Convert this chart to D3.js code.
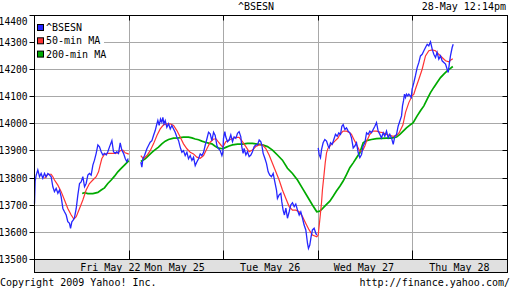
<!DOCTYPE html>
<html>
<head>
<meta charset="utf-8">
<script src="https://cdn.jsdelivr.net/npm/d3@7"></script>
<style>
  body { margin: 0; background: #fff; }
  text { font-family: "DejaVu Sans Mono", monospace; font-size: 10px; fill: #000; }
</style>
</head>
<body>
<svg id="chart"></svg>
<script>
// time axis: each trading day section is 100 units wide
const yTicks = [13500, 13600, 13700, 13800, 13900, 14000, 14100, 14200, 14300, 14400];
const dayBreaks = [100, 200, 300, 400];
const dayLabels = ["Fri May 22", "Mon May 25", "Tue May 26", "Wed May 27", "Thu May 28"];
const dayLabelAt = [112, 180, 281, 380, 481];
const seriesNames = ["^BSESN", "50-min MA", "200-min MA"];

// ^BSESN index, [time, value]
const bsesnFri = [[0,13705],[0.7,13790],[1.8,13811],[3.5,13830],[5.3,13805],[7.0,13817],[8.8,13799],[10.6,13817],[12.3,13805],[14.1,13817],[15.9,13811],[17.6,13805],[19.4,13768],[21.1,13750],[22.9,13762],[24.7,13744],[26.4,13756],[28.2,13731],[30.0,13688],[31.7,13676],[33.5,13664],[35.2,13639],[37.0,13633],[38.1,13615],[39.5,13639],[40.9,13645],[42.3,13655],[44.1,13688],[45.8,13737],[47.6,13780],[49.3,13786],[51.1,13805],[52.9,13768],[54.6,13780],[56.4,13811],[58.1,13817],[59.9,13811],[61.7,13848],[63.4,13866],[65.2,13891],[67.0,13922],[68.7,13915],[70.5,13897],[72.2,13885],[74.0,13891],[75.8,13885],[77.5,13897],[79.3,13915],[81.8,13938],[83.5,13897],[85.3,13891],[87.0,13897],[88.8,13891],[90.6,13930],[92.3,13903],[94.1,13891],[95.9,13872],[97.6,13860],[99.0,13872]];
const bsesnMonTue = [[112.4,13859],[113.5,13840],[114.6,13871],[116.3,13883],[118.8,13908],[120.5,13920],[122.3,13932],[124.1,13938],[125.8,13957],[127.6,13975],[129.4,14000],[130.4,14012],[131.8,13994],[133.2,14018],[134.6,14006],[135.7,14024],[136.8,14000],[138.2,14012],[139.9,13987],[141.7,14000],[143.5,13981],[145.2,13994],[147.0,13981],[148.7,13969],[150.5,13951],[152.3,13938],[154.0,13914],[155.8,13895],[157.5,13901],[159.3,13883],[161.1,13895],[162.8,13871],[164.6,13883],[166.4,13865],[168.1,13877],[169.9,13846],[171.6,13859],[173.4,13871],[175.2,13889],[176.9,13883],[178.7,13895],[180.4,13920],[182.2,13944],[184.0,13969],[185.7,13963],[187.5,13938],[189.3,13969],[191.0,13957],[192.8,13920],[194.5,13908],[196.3,13901],[198.1,13883],[199.1,13895],
  [199.8,13946],[201.2,13971],[202.2,13952],[204.0,13934],[205.7,13940],[207.5,13959],[209.3,13934],[211.0,13952],[212.8,13946],[214.6,13965],[216.3,13971],[218.1,13952],[219.1,13916],[220.5,13891],[221.6,13909],[223.4,13885],[225.1,13897],[226.9,13879],[228.7,13885],[230.4,13897],[232.2,13916],[233.9,13922],[235.7,13922],[237.5,13940],[239.2,13934],[240.3,13922],[241.7,13891],[243.5,13873],[245.2,13854],[247.0,13823],[248.7,13811],[250.5,13805],[252.3,13817],[254.0,13787],[255.8,13756],[256.8,13725],[258.6,13738],[260.4,13744],[261.4,13713],[262.8,13682],[264.2,13664],[265.7,13689],[267.4,13652],[269.2,13676],[270.9,13701],[272.7,13709],[274.5,13695],[276.2,13704],[278.0,13682],[279.8,13664],[281.5,13676],[283.3,13652],[285.0,13627],[286.8,13609],[288.6,13559],[289.6,13541],[291.0,13553],[292.4,13584],[293.8,13609],[295.6,13615],[297.4,13596],[298.4,13590]];
const bsesnWedThu = [[299.9,13911],[300.9,13887],[302.3,13875],[303.4,13905],[305.1,13930],[306.9,13942],[308.7,13936],[310.4,13918],[311.5,13911],[312.9,13930],[314.7,13924],[316.4,13942],[318.2,13961],[320.0,13954],[321.7,13967],[323.5,13961],[324.9,13991],[326.3,13997],[328.1,13979],[329.8,13985],[331.6,13973],[333.3,13967],[335.1,13948],[336.9,13911],[338.6,13918],[340.4,13930],[342.2,13893],[343.9,13875],[345.7,13887],[347.4,13918],[349.2,13930],[351.0,13967],[352.7,13961],[354.5,13973],[356.2,13967],[358.0,13979],[359.8,13991],[361.5,14004],[363.3,13973],[365.1,13961],[366.8,13948],[368.6,13967],[370.3,13954],[372.1,13973],[373.9,13948],[375.6,13961],[377.4,13948],[379.2,13924],[380.9,13954],[382.7,13961],[384.4,13991],
  [388.0,14029],[389.0,14066],[390.1,14085],[391.1,14109],[392.2,14097],[393.2,14109],[394.6,14103],[395.7,14109],[397.1,14103],[398.2,14097],[399.2,14128],[401.0,14152],[402.7,14177],[404.5,14207],[406.3,14226],[408.0,14250],[409.8,14256],[411.6,14269],[413.3,14281],[415.1,14293],[416.8,14287],[418.6,14302],[420.4,14275],[422.1,14256],[423.9,14244],[425.6,14263],[427.4,14238],[429.2,14250],[430.9,14232],[432.7,14226],[434.5,14220],[436.2,14201],[437.3,14189],[438.7,14226],[439.7,14250],[441.5,14281],[442.6,14293]];

// 50-minute moving average
const ma50Fri = [[10.6,13799],[14.1,13814],[17.6,13814],[19.4,13805],[21.1,13793],[24.7,13774],[28.2,13750],[31.7,13719],[35.2,13688],[38.8,13664],[41.6,13649],[44.1,13658],[47.6,13688],[51.1,13719],[54.6,13756],[58.1,13780],[61.7,13793],[65.2,13805],[67.7,13823],[69.4,13848],[71.2,13872],[74.0,13888],[77.5,13891],[81.1,13891],[84.6,13891],[88.1,13893],[90.9,13901],[93.4,13903],[95.9,13893],[99.7,13888]];
const ma50Rest = [[112.4,13883],[115.2,13871],[118.8,13883],[122.3,13901],[125.8,13926],[129.4,13957],[132.9,13981],[136.4,13996],[139.9,14000],[143.5,14000],[147.0,13994],[150.5,13975],[154.0,13951],[157.5,13926],[161.1,13908],[164.6,13895],[168.1,13889],[171.6,13877],[175.2,13873],[178.7,13883],[182.2,13908],[185.7,13932],[189.3,13944],[192.1,13944],[194.5,13932],[197.4,13920],[199.1,13914],
  [202.2,13934],[205.7,13940],[209.3,13946],[212.8,13950],[216.3,13950],[219.8,13934],[223.4,13916],[226.9,13897],[230.4,13903],[233.9,13916],[237.5,13922],[241.0,13922],[244.5,13909],[248.0,13885],[251.6,13854],[255.1,13823],[258.6,13793],[262.1,13756],[265.7,13725],[269.2,13695],[272.7,13682],[276.2,13682],[279.8,13676],[283.3,13658],[286.8,13633],[290.3,13609],[293.8,13590],[298.4,13584],
  [299.9,13590],[301.6,13647],[303.4,13709],[304.4,13758],[305.9,13807],[307.3,13856],[308.7,13893],[310.4,13911],[312.2,13918],[314.0,13924],[315.7,13930],[317.5,13936],[319.2,13942],[321.0,13948],[322.8,13961],[324.5,13967],[326.3,13973],[329.8,13973],[333.3,13967],[335.1,13961],[336.9,13948],[338.6,13936],[340.4,13924],[342.2,13911],[343.9,13899],[345.7,13899],[347.4,13905],[349.2,13918],[351.0,13936],[352.7,13948],[354.5,13961],[356.2,13969],[358.0,13973],[361.5,13973],[365.1,13969],[368.6,13967],[372.1,13961],[375.6,13957],[379.2,13954],[382.7,13957],[385.5,13967],
  [389.4,13995],[392.2,14042],[395.7,14078],[399.2,14103],[401.0,14109],[402.7,14128],[406.3,14164],[409.8,14201],[413.3,14250],[416.8,14269],[420.4,14272],[423.9,14269],[427.4,14256],[430.9,14244],[434.5,14232],[438.0,14228],[439.7,14234],[442.2,14240]];

// 200-minute moving average
const ma200Fri = [[50.4,13743],[52.9,13746],[56.4,13743],[61.7,13743],[67.0,13747],[70.5,13756],[74.0,13764],[77.5,13780],[81.1,13793],[84.6,13807],[88.1,13823],[91.6,13836],[95.1,13848],[99.7,13864]];
const ma200Rest = [[112.4,13861],[117.0,13871],[120.5,13883],[124.1,13895],[127.6,13905],[131.1,13914],[134.6,13926],[138.2,13936],[141.7,13942],[147.0,13947],[152.3,13948],[157.5,13951],[162.8,13951],[166.4,13948],[169.9,13944],[173.4,13941],[176.9,13936],[180.4,13932],[184.0,13929],[187.5,13926],[191.0,13917],[194.5,13910],[199.1,13908],
  [202.2,13913],[205.7,13918],[209.3,13922],[214.6,13925],[219.8,13925],[225.1,13928],[230.4,13928],[235.7,13925],[241.0,13922],[246.3,13916],[251.6,13903],[256.8,13885],[262.1,13866],[267.4,13836],[272.7,13817],[278.0,13793],[283.3,13762],[288.6,13731],[293.8,13701],[298.4,13676],
  [301.6,13678],[305.1,13690],[308.7,13703],[312.2,13715],[315.7,13733],[319.2,13752],[322.8,13770],[326.3,13789],[329.8,13813],[333.3,13838],[336.9,13856],[340.4,13875],[343.9,13893],[347.4,13930],[351.0,13938],[356.2,13942],[361.5,13945],[366.8,13946],[372.1,13947],[377.4,13947],[382.7,13951],[386.2,13961],[389.7,13973],[393.2,13985],[396.8,13995],[400.3,14004],
  [404.5,14029],[408.0,14048],[411.6,14066],[415.1,14091],[418.6,14115],[422.1,14134],[425.6,14152],[429.2,14170],[432.7,14183],[436.2,14195],[439.7,14204],[442.2,14211]];

const colors = ["#2626ff", "#ff3333", "#00aa00"];

const svg = d3.select("#chart").attr("width", 512).attr("height", 288)
  .style("background", "#fff");

const plotL = 34.5, plotR = 507.5, plotT = 15.5, plotB = 259.5;
const x = d3.scaleLinear().domain([0, 500]).range([plotL, plotR]);
const y = d3.scaleLinear().domain([13500, 14400]).range([259.5, 15.2]);
const px = v => Math.floor(v) + 0.5;

// horizontal grid
svg.append("g").selectAll("line").data(yTicks.slice(1, -1)).join("line")
  .attr("x1", plotL).attr("x2", plotR)
  .attr("y1", d => px(y(d))).attr("y2", d => px(y(d)))
  .attr("stroke", "#a8a8a8");

// vertical grid at day breaks
svg.append("g").selectAll("line").data(dayBreaks).join("line")
  .attr("x1", d => px(x(d))).attr("x2", d => px(x(d)))
  .attr("y1", plotT).attr("y2", plotB)
  .attr("stroke", "#a8a8a8");

// inward ticks: top/bottom at day breaks, right at value ticks
svg.append("g").selectAll("line").data(dayBreaks).join("line")
  .attr("x1", d => px(x(d))).attr("x2", d => px(x(d)))
  .attr("y1", plotB).attr("y2", plotB - 9).attr("stroke", "#000");
svg.append("g").selectAll("line").data(dayBreaks).join("line")
  .attr("x1", d => px(x(d))).attr("x2", d => px(x(d)))
  .attr("y1", plotT).attr("y2", plotT + 5).attr("stroke", "#000");
svg.append("g").selectAll("line").data(yTicks).join("line")
  .attr("x1", plotR - 5).attr("x2", plotR)
  .attr("y1", d => px(y(d))).attr("y2", d => px(y(d))).attr("stroke", "#000");

// left axis: outward ticks + labels
const yAxis = svg.append("g").attr("transform", `translate(${plotL},0)`)
  .call(d3.axisLeft(y).tickValues(yTicks).tickSize(5).tickPadding(2).tickFormat(d3.format("d")));
yAxis.select(".domain").remove();
yAxis.selectAll(".tick").attr("transform", d => `translate(0,${px(y(d))})`);
yAxis.selectAll("line").attr("stroke", "#000");
yAxis.selectAll("text").style("font-family", "DejaVu Sans Mono").style("font-size", "9.6px")
  .attr("fill", "#000").attr("dy", d => d === 14400 ? "0.95em" : "0.32em");

// price and moving-average lines
const line = d3.line().x(d => x(d[0])).y(d => y(d[1]));
const segs = [
  [ma200Fri, 2], [ma200Rest, 2],
  [ma50Fri, 1], [ma50Rest, 1],
  [bsesnFri, 0], [bsesnMonTue, 0], [bsesnWedThu, 0]
];
svg.append("g").selectAll("path").data(segs).join("path")
  .attr("d", d => line(d[0]))
  .attr("fill", "none")
  .attr("stroke", d => colors[d[1]])
  .attr("stroke-width", d => d[1] === 2 ? 1.7 : (d[1] === 0 ? 1.3 : 1.2));

// legend
const legend = svg.append("g");
legend.append("rect").attr("x", 35).attr("y", 16).attr("width", 69).attr("height", 44).attr("fill", "#fff");
const rows = legend.selectAll("g").data(seriesNames).join("g")
  .attr("transform", (d, i) => `translate(37,${24 + i * 13.3})`);
rows.append("rect").attr("x", 0.5).attr("y", 0.5).attr("width", 6).attr("height", 6)
  .attr("fill", (d, i) => colors[i]).attr("stroke", "#000");
rows.append("text").attr("x", 9).attr("y", 7).text(d => d);

// frame
svg.append("rect").attr("x", plotL).attr("y", plotT).attr("width", plotR - plotL).attr("height", plotB - plotT)
  .attr("fill", "none").attr("stroke", "#000");

// date bar
svg.append("rect").attr("x", plotL).attr("y", plotB).attr("width", plotR - plotL).attr("height", 13)
  .attr("fill", "#e0e0e0").attr("stroke", "#000");
svg.append("g").selectAll("text").data(dayLabels).join("text")
  .attr("x", (d, i) => x(dayLabelAt[i]))
  .attr("y", 270.5)
  .attr("text-anchor", "end")
  .text(d => d);

// header and footer
svg.append("text").attr("x", 256).attr("y", 10).attr("text-anchor", "middle").text("^BSESN");
svg.append("text").attr("x", 506).attr("y", 10).attr("text-anchor", "end").text("28-May 12:14pm");
svg.append("text").attr("x", 0).attr("y", 285.5).text("Copyright 2009 Yahoo! Inc.");
svg.append("text").attr("x", 510).attr("y", 285.5).attr("text-anchor", "end").text("http://finance.yahoo.com/");
</script>
</body>
</html>
